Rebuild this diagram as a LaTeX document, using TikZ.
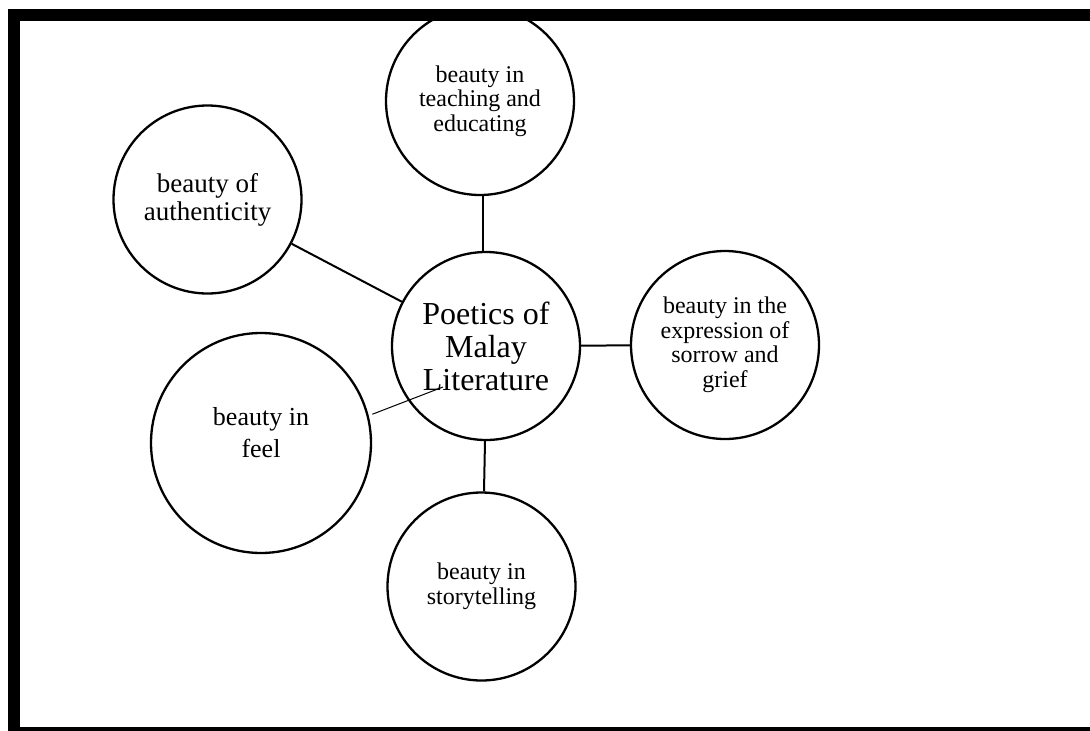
\documentclass[tikz,border=0pt]{standalone}
\usepackage{fontspec}
\setmainfont{Liberation Serif}
\begin{document}
\begin{tikzpicture}[x=1pt,y=-1pt,
  bubble/.style={draw,circle,line width=2.3pt,inner sep=0pt,minimum size=188pt,align=center,font=\fontsize{24}{24.5}\selectfont},
  spoke/.style={line width=2pt}]
\useasboundingbox (0,0) rectangle (1090,731);
\begin{scope}
\clip (0,9) rectangle (1090,731);
\node[bubble,font=\fontsize{32}{33}\selectfont] (poetics) at (486,346) {Poetics of\\Malay\\Literature};
\node[bubble] (teach) at (480,101) {beauty in\\teaching and\\educating};
\node[bubble,font=\fontsize{27}{28}\selectfont] (auth) at (207.5,199.5) {beauty of\\authenticity};
\node[bubble] (sorrow) at (725,345) {beauty in the\\expression of\\sorrow and\\grief};
\node[bubble,minimum size=220pt] (feel) at (261,443) {};
\node[font=\fontsize{26}{32}\selectfont,align=center] (feeltext) at (261,433) {beauty in\\feel};
\node[bubble] (story) at (481.5,586.5) {beauty in\\storytelling};
\coordinate (feeltip) at (443,387);
\draw[spoke] ([xshift=3]teach.south) -- ([xshift=-3]poetics.north);
\draw[spoke] (auth) -- (poetics);
\draw[spoke] (poetics) -- (sorrow);
\draw[spoke] ([xshift=-1]poetics.south) -- ([xshift=2.5]story.north);
\draw[line width=1pt] ([shift={(4,0)}]feel.15) -- (feeltip);
\end{scope}
\fill (7.5,9) rectangle (19.5,731);
\fill (7.5,9) rectangle (1090,20.5);
\fill (7.5,727) rectangle (1090,731);
\end{tikzpicture}
\end{document}
